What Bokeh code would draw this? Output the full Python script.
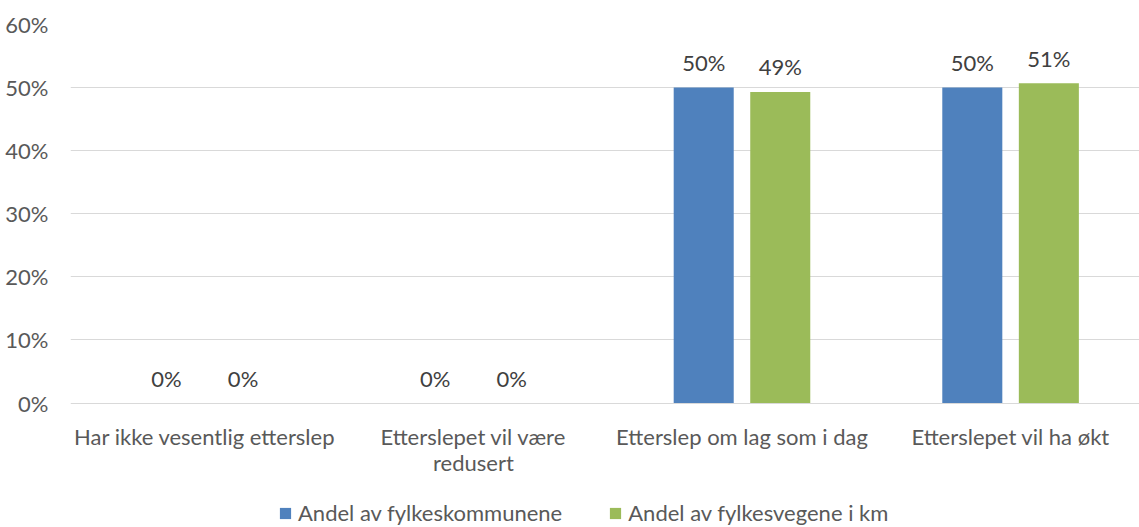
from bokeh.plotting import figure
from bokeh.models import ColumnDataSource, Range1d, FixedTicker, Legend, LegendItem
from bokeh.transform import dodge
from bokeh.embed import file_html
from bokeh.resources import INLINE

categories = ["Har ikke vesentlig etterslep", "Etterslepet vil være\nredusert",
              "Etterslep om lag som i dag", "Etterslepet vil ha økt"]
series_names = ["Andel av fylkeskommunene", "Andel av fylkesvegene i km"]
blue_values = [0, 0, 50, 50]
green_values = [0, 0, 49.3, 50.7]
y_ticks = [0, 10, 20, 30, 40, 50, 60]
y_tick_labels = ["0%", "10%", "20%", "30%", "40%", "50%", "60%"]

FONT = "Lato"
FS = "22px"
BLUE = "#4f81bd"
GREEN = "#9bbb59"

xpos = [i + 0.5 for i in range(len(categories))]
src = ColumnDataSource(dict(
    x=xpos,
    blue=blue_values,
    green=green_values,
    blue_lbl=[f"{round(v)}%" for v in blue_values],
    green_lbl=[f"{round(v)}%" for v in green_values],
))
cat_src = ColumnDataSource(dict(x=xpos, y=[0] * len(categories), text=categories))

# frame spans from the 60% line down to the bottom of the page; 0% sits at 402.5px
px_per_unit = 378.5 / 60.0
y_start = 60 - 503 / px_per_unit

p = figure(width=1139, height=527, output_backend="svg", toolbar_location=None,
           x_range=Range1d(0, 3.98), y_range=Range1d(y_start, 60),
           min_border_left=70, min_border_right=0, min_border_top=24,
           min_border_bottom=0)
p.outline_line_color = None
p.background_fill_color = "white"
p.border_fill_color = "white"

off = 0.1425
bw = 0.2235
r1 = p.vbar(x=dodge("x", -off), top="blue", bottom=0, width=bw, source=src,
            fill_color=BLUE, line_color=None)
r2 = p.vbar(x=dodge("x", off), top="green", bottom=0, width=bw, source=src,
            fill_color=GREEN, line_color=None)

for col, lbl, o in (("blue", "blue_lbl", -off), ("green", "green_lbl", off)):
    p.text(x=dodge("x", o), y=col, text=lbl, source=src, text_align="center",
           text_baseline="middle", y_offset=-25, text_font_size=FS,
           text_color="#404040", text_font={"value": FONT})

# category labels below the 0% line
p.text(x="x", y="y", text="text", source=cat_src, text_align="center",
       text_baseline="top", y_offset=20, text_font_size=FS, text_line_height=0.98,
       text_color="#595959", text_font={"value": FONT})

# y axis
p.yaxis.ticker = FixedTicker(ticks=y_ticks)
p.yaxis.major_label_overrides = {t: l for t, l in zip(y_ticks, y_tick_labels)}
p.yaxis.axis_line_color = None
p.yaxis.major_tick_line_color = None
p.yaxis.minor_tick_line_color = None
p.yaxis.major_tick_out = 0
p.yaxis.major_label_standoff = 22
p.yaxis.major_label_text_font = FONT
p.yaxis.major_label_text_font_size = FS
p.yaxis.major_label_text_color = "#595959"

p.xaxis.visible = False
p.xgrid.grid_line_color = None
p.ygrid.ticker = FixedTicker(ticks=y_ticks)
p.ygrid.grid_line_color = "#d9d9d9"
p.ygrid.grid_line_width = 1

legend = Legend(items=[LegendItem(label=series_names[0], renderers=[r1]),
                       LegendItem(label=series_names[1], renderers=[r2])],
                orientation="horizontal", location=(208, 1),
                glyph_width=14, glyph_height=14, label_standoff=6, spacing=46,
                padding=0, margin=0, border_line_color=None,
                background_fill_alpha=0, label_text_font=FONT,
                label_text_font_size=FS, label_text_color="#595959")
p.add_layout(legend, "center")

open("out.html", "w").write(file_html(p, INLINE))
